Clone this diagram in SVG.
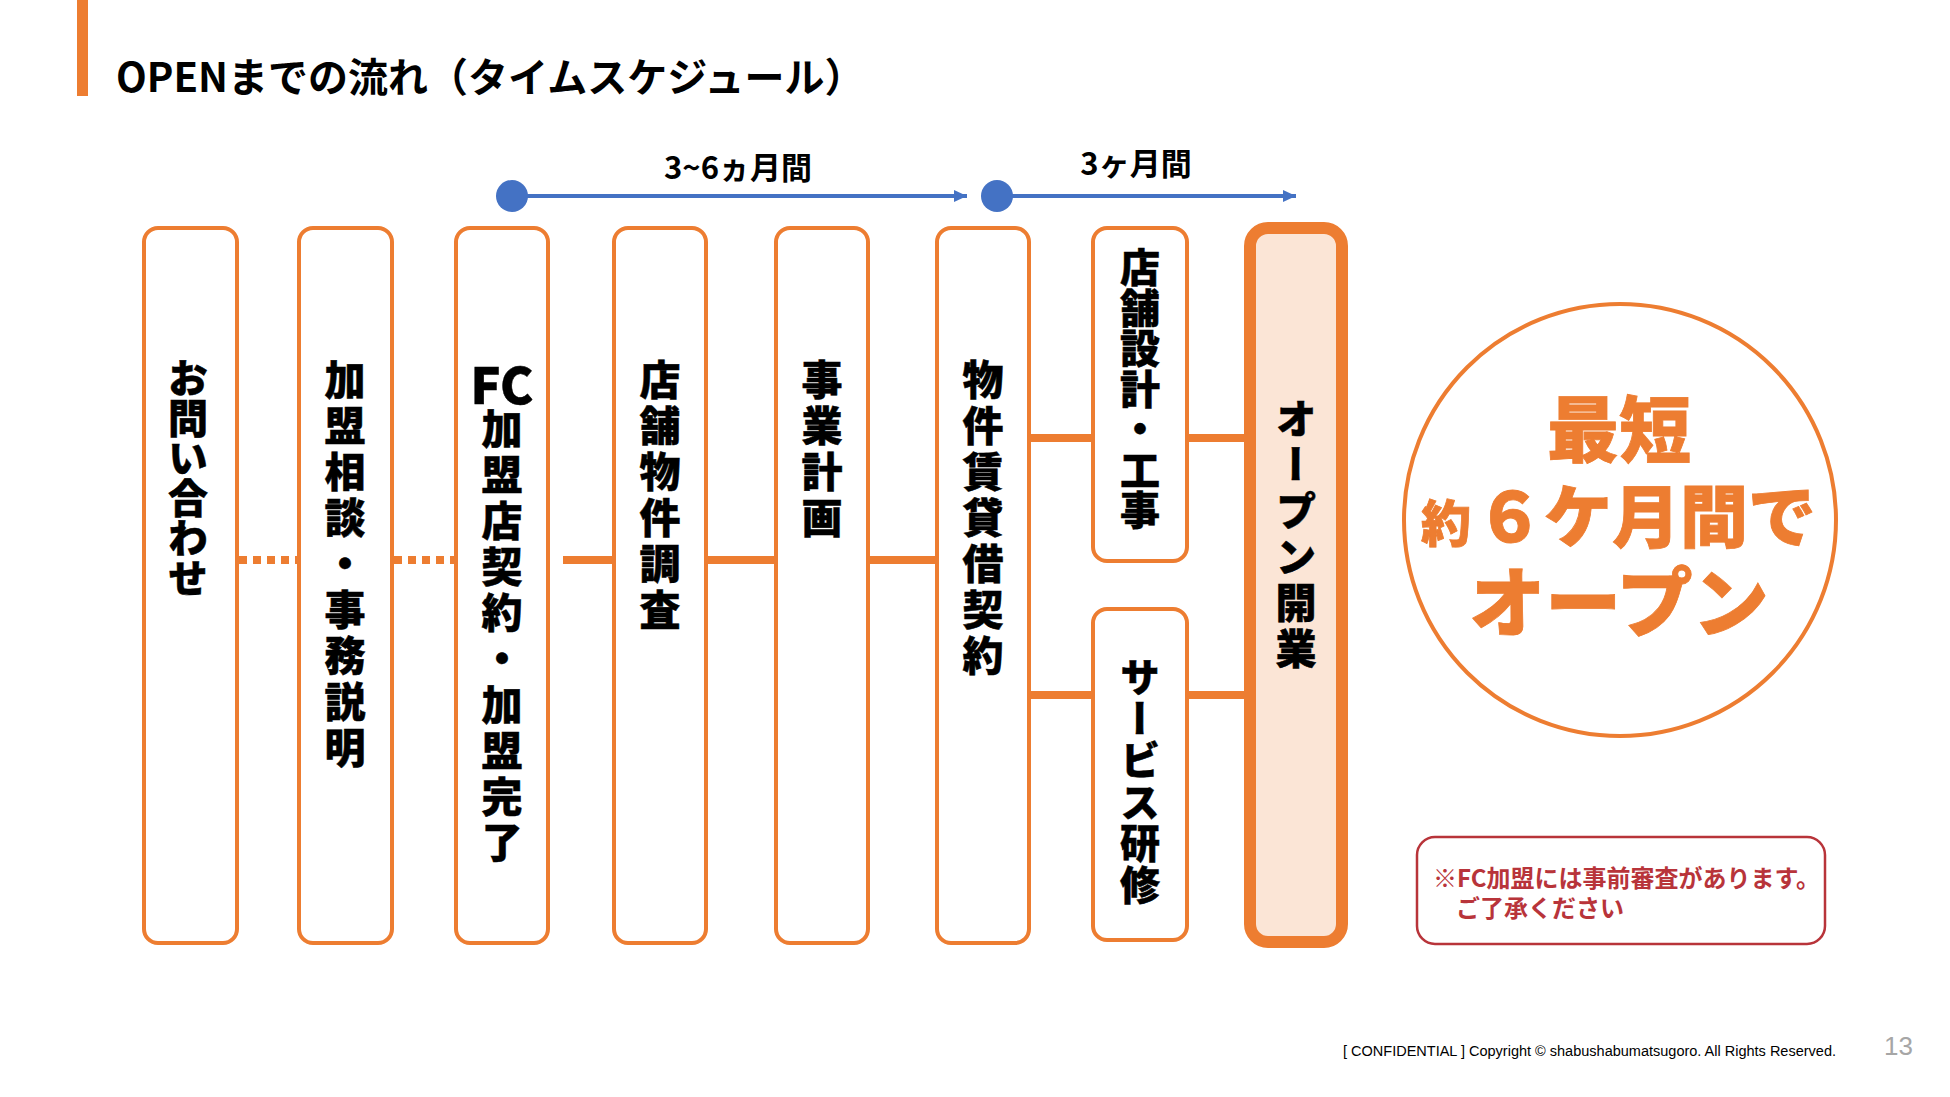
<svg xmlns="http://www.w3.org/2000/svg" width="1950" height="1097" viewBox="0 0 1950 1097">
  <defs>
    <style>
      .box { fill: #ffffff; stroke: #ED7D31; stroke-width: 4; }
      .vt { font-family: "Noto Sans CJK JP", "Noto Sans", sans-serif; font-weight: 900; font-size: 41px; fill: #000000; stroke: #000000; stroke-width: 0.5px; writing-mode: vertical-rl; }
      .vs { font-size: 40px; }
      .link { stroke: #ED7D31; stroke-width: 8; fill: none; }
      .dot { stroke-dasharray: 8 6; }
      .tl { stroke: #4472C4; stroke-width: 4; fill: none; }
      .tlabel { font-family: "Noto Sans CJK JP", sans-serif; font-weight: 700; font-size: 31px; fill: #000000; text-anchor: middle; }
      .big { font-family: "Noto Sans CJK JP", sans-serif; font-weight: 900; fill: #ED7D31; stroke: #ED7D31; stroke-width: 0.8px; }
      .note { font-family: "Noto Sans CJK JP", sans-serif; font-weight: 700; font-size: 24px; fill: #B8343A; }
    </style>
    <marker id="arr" viewBox="0 0 13 12" refX="13" refY="6" markerWidth="13" markerHeight="12" markerUnits="userSpaceOnUse" orient="auto">
      <path d="M0,0 L13,6 L0,12 Z" fill="#4472C4"/>
    </marker>
  </defs>

  <rect x="0" y="0" width="1950" height="1097" fill="#ffffff"/>

  <g id="title">
    <rect x="77" y="0" width="11" height="96" fill="#ED7D31"/>
    <text x="116" y="92" font-family="'Noto Sans CJK JP', sans-serif" font-weight="700" font-size="40" fill="#000000">OPENまでの流れ（タイムスケジュール）</text>
  </g>

  <g id="timeline">
    <circle cx="512" cy="196" r="16" fill="#4472C4"/>
    <line class="tl" x1="512" y1="196" x2="967" y2="196" marker-end="url(#arr)"/>
    <text class="tlabel" x="738" y="179">3~6ヵ月間</text>
    <circle cx="997" cy="196" r="16" fill="#4472C4"/>
    <line class="tl" x1="997" y1="196" x2="1296" y2="196" marker-end="url(#arr)"/>
    <text class="tlabel" x="1136" y="175">3ヶ月間</text>
  </g>

  <g id="connectors">
    <line class="link dot" x1="239" y1="560" x2="297" y2="560"/>
    <line class="link dot" x1="394" y1="560" x2="454" y2="560"/>
    <line class="link" x1="563" y1="560" x2="612" y2="560"/>
    <line class="link" x1="708" y1="560" x2="774" y2="560"/>
    <line class="link" x1="870" y1="560" x2="935" y2="560"/>
    <line class="link" x1="1031" y1="438" x2="1091" y2="438"/>
    <line class="link" x1="1189" y1="438" x2="1244" y2="438"/>
    <line class="link" x1="1031" y1="695" x2="1091" y2="695"/>
    <line class="link" x1="1189" y1="695" x2="1244" y2="695"/>
  </g>

  <g id="n1">
    <rect class="box" x="144" y="228" width="93" height="715" rx="14"/>
    <text class="vt vs" x="188" y="358 398 438 478 518 558">お問い合わせ</text>
  </g>
  <g id="n2">
    <rect class="box" x="299" y="228" width="93" height="715" rx="14"/>
    <text class="vt" x="345" y="359 405 451 497 543 589 635 681 727">加盟相談・事務説明</text>
  </g>
  <g id="n3">
    <rect class="box" x="456" y="228" width="92" height="715" rx="14"/>
    <text x="502" y="404" font-family="'Noto Sans CJK JP', sans-serif" font-weight="900" font-size="50" text-anchor="middle" fill="#000000" stroke="#000000" stroke-width="0.5">FC</text>
    <text class="vt" x="502" y="408 454 500 546 592 638 684 730 776 822">加盟店契約・加盟完了</text>
  </g>
  <g id="n4">
    <rect class="box" x="614" y="228" width="92" height="715" rx="14"/>
    <text class="vt" x="660" y="359 405 451 497 543 589">店舗物件調査</text>
  </g>
  <g id="n5">
    <rect class="box" x="776" y="228" width="92" height="715" rx="14"/>
    <text class="vt" x="822" y="359 405 451 497">事業計画</text>
  </g>
  <g id="n6">
    <rect class="box" x="937" y="228" width="92" height="715" rx="14"/>
    <text class="vt" x="983" y="359 405 451 497 543 589 635">物件賃貸借契約</text>
  </g>
  <g id="n7a">
    <rect class="box" x="1093" y="228" width="94" height="333" rx="14"/>
    <text class="vt vs" x="1140" y="247 287.5 328 368.5 409 449.5 490">店舗設計・工事</text>
  </g>
  <g id="n7b">
    <rect class="box" x="1093" y="609" width="94" height="331" rx="14"/>
    <text class="vt vs" x="1140" y="657 698.5 740 781.5 823 864.5">サービス研修</text>
  </g>
  <g id="n8">
    <rect x="1250" y="228" width="92" height="714" rx="18" fill="#FBE5D6" stroke="#ED7D31" stroke-width="12"/>
    <text class="vt" x="1296" y="398 444 490 536 582 628">オープン開業</text>
  </g>

  <g id="badge">
    <circle cx="1620" cy="520" r="216" fill="#ffffff" stroke="#ED7D31" stroke-width="4"/>
    <text class="big" x="1619" y="456" font-size="72" text-anchor="middle">最短</text>
    <text class="big" y="542"><tspan x="1421" font-size="50">約</tspan><tspan x="1476" font-size="68">６ケ月間で</tspan></text>
    <text class="big" x="1619" y="631" font-size="76" text-anchor="middle">オープン</text>
  </g>

  <g id="note">
    <rect x="1417" y="837" width="408" height="107" rx="18" fill="#ffffff" stroke="#B8343A" stroke-width="2.5"/>
    <text class="note" x="1433" y="887">※FC加盟には事前審査があります。</text>
    <text class="note" x="1456" y="917">ご了承ください</text>
  </g>

  <g id="footer">
    <text x="1343" y="1056" font-family="'Liberation Sans', sans-serif" font-size="14" fill="#000000" textLength="493" lengthAdjust="spacingAndGlyphs">[ CONFIDENTIAL ] Copyright © shabushabumatsugoro. All Rights Reserved.</text>
    <text x="1884" y="1055" font-family="'Liberation Sans', sans-serif" font-size="26" fill="#A6A6A6">13</text>
  </g>
</svg>
